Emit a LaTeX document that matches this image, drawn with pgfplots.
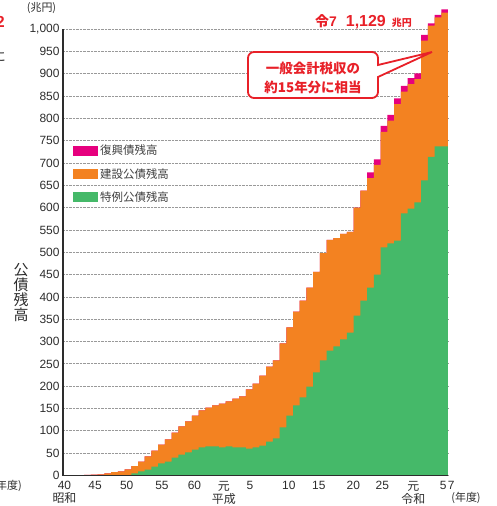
\documentclass[border=0pt]{standalone}
\usepackage{fontspec}
\setmainfont{Liberation Sans}
\newfontfamily\jp{Noto Sans CJK JP}
\usepackage{pgfplots}
\pgfplotsset{compat=1.18}
\usepackage{pgfplotstable}

\definecolor{fukko}{RGB}{230,0,126}
\definecolor{kensetsu}{RGB}{243,130,33}
\definecolor{tokurei}{RGB}{69,185,105}
\definecolor{callred}{RGB}{232,32,40}
\definecolor{ink}{RGB}{45,45,45}

% year (left edge of bar), total incl. reconstruction bonds, top of construction bonds, special bonds
\pgfplotstableread{
year total kensetsu tokurei
1966 0.3 0.3 0
1967 0.6 0.6 0
1968 0.9 0.9 0
1969 1.2 1.2 0
1970 2 2 0
1971 2.5 2.5 0
1972 4.5 4.5 0
1973 7.5 7.5 0
1974 9 9 0
1975 13.5 13.5 0.5
1976 21 21 4.5
1977 31 31 9
1978 43 43 13
1979 56 56 20
1980 69 69 27
1981 81 81 31
1982 96 96 40
1983 110 110 47
1984 121 121 52
1985 134 134 58
1986 146 146 63
1987 152 152 65
1988 157 157 65
1989 161 161 63
1990 166 166 65
1991 172 172 63
1992 177 177 63
1993 193 193 60
1994 206 206 63
1995 224 224 67
1996 244 244 76
1997 258 258 83
1998 296 296 108
1999 332 332 134
2000 367 367 157
2001 392 392 175
2002 421 421 199
2003 456 456 231
2004 498 498 258
2005 528 528 280
2006 532 532 289
2007 541 541 305
2008 546 546 320
2009 600 600 358
2010 638 638 392
2011 679 666 421
2012 708 696 450
2013 783 770 511
2014 808 795 520
2015 845 832 526
2016 873 860 587
2017 890 877 598
2018 901 888 612
2019 987 974 661
2020 1013 1008 714
2021 1032 1026 737
2022 1044 1037 737
2023 1044 1037 737
}\zandaka

\begin{document}
\begin{tikzpicture}
\begin{axis}[
    at={(0,0)}, anchor=south west,
    scale only axis,
    width=385bp, height=446.4bp,
    xmin=1965.87, xmax=2023,
    ymin=0, ymax=1000,
    clip=false,
    axis x line=bottom, axis y line=left,
    axis line style={-, draw=ink, line width=1.3bp},
    major tick length=0pt,
    ytick={0,50,...,1000},
    ymajorgrids,
    grid style={densely dotted, black!40, line width=0.8bp},
    /pgf/number format/assume math mode=true,
    /pgf/number format/1000 sep={,},
    yticklabel style={font=\fontsize{12}{12}\selectfont, text=ink},
    xtick={1966.09,1970.62,1975.32,1980.55,1985.37,1989.75,1993.6,1999.39,2003.84,2008.96,2013.26,2017.86,2022.3,2023},
    xticklabels={{40\\{\jp 昭和}},45,50,55,60,{{\jp 元}\\{\jp 平成}},5,10,15,20,25,{{\jp 元}\\{\jp 令和}},5,{\makebox[0pt][l]{7}}},
    xticklabel style={align=center, font=\fontsize{12}{12.5}\selectfont, text=ink, yshift=-2.5bp},
    legend style={draw=none, fill=none, inner sep=0pt,
        at={(0.026,0.745)}, anchor=north west,
        font=\jp\fontsize{11.5}{13}\selectfont, text=black!75,
        row sep=8bp},
    legend cell align=left,
    legend image code/.code={\fill (0bp,-5bp) rectangle (25bp,5bp);},
]
\addplot[fill=fukko, draw=none, const plot mark left] table[x=year, y=total]{\zandaka} \closedcycle;
\addlegendentry{復興債残高}
\addplot[fill=kensetsu, draw=none, const plot mark left] table[x=year, y=kensetsu]{\zandaka} \closedcycle;
\addlegendentry{建設公債残高}
\addplot[fill=tokurei, draw=none, const plot mark left] table[x=year, y=tokurei]{\zandaka} \closedcycle;
\addlegendentry{特例公債残高}
\draw[ink, line width=1.3bp] (axis cs:1965.87,0) -- (axis cs:2023,0);
\end{axis}

% unit and axis title
\node[font=\jp\fontsize{11}{11}\selectfont, text=ink] at (-21.5bp,467.5bp) {(兆円)};
\node[font=\jp\fontsize{15}{15.3}\selectfont, text=ink, align=center] at (-42bp,183bp) {公\\債\\残\\高};
\node[font=\jp\fontsize{11}{11}\selectfont, text=ink] at (403bp,-22.5bp) {(年度)};

% total for the last year
\node[anchor=base west, text=callred, inner sep=0pt] at (252bp,448.5bp)
  {\bfseries{\jp\fontsize{14}{14}\selectfont 令}{\fontsize{14}{14}\selectfont 7}\hspace{9bp}{\fontsize{16}{16}\selectfont 1,129}\hspace{6bp}{\jp\fontsize{10}{10}\selectfont 兆円}};

% callout
\draw[callred, line width=1.8bp, fill=white, rounded corners=6bp]
  (185bp,423.5bp) -- (315bp,423.5bp) -- (315bp,410.5bp) [sharp corners] -- (315bp,410.5bp) -- (369bp,423.5bp) -- (315bp,398.5bp) [rounded corners=6bp] -- (315bp,377.5bp) -- (185bp,377.5bp) -- cycle;
\node[font=\jp\bfseries\fontsize{13.5}{19}\selectfont, text=callred, align=center] at (250bp,398bp) {一般会計税収の\\約15年分に相当};

% pieces of the neighbouring chart cut by the edge
\node[anchor=base east, text=callred, inner sep=0pt, font=\bfseries\fontsize{16}{16}\selectfont] at (-58bp,447.5bp) {2};
\node[anchor=east, inner sep=0pt, text=ink, font=\jp\fontsize{13}{13}\selectfont] at (-57bp,418.5bp) {に};
\node[anchor=east, inner sep=0pt, text=ink, font=\jp\fontsize{11}{11}\selectfont] at (-41bp,-10.5bp) {(年度)};

\pgfresetboundingbox
\path[use as bounding box] (-63bp,-30.5bp) rectangle (434bp,475.5bp);
\end{tikzpicture}
\end{document}
